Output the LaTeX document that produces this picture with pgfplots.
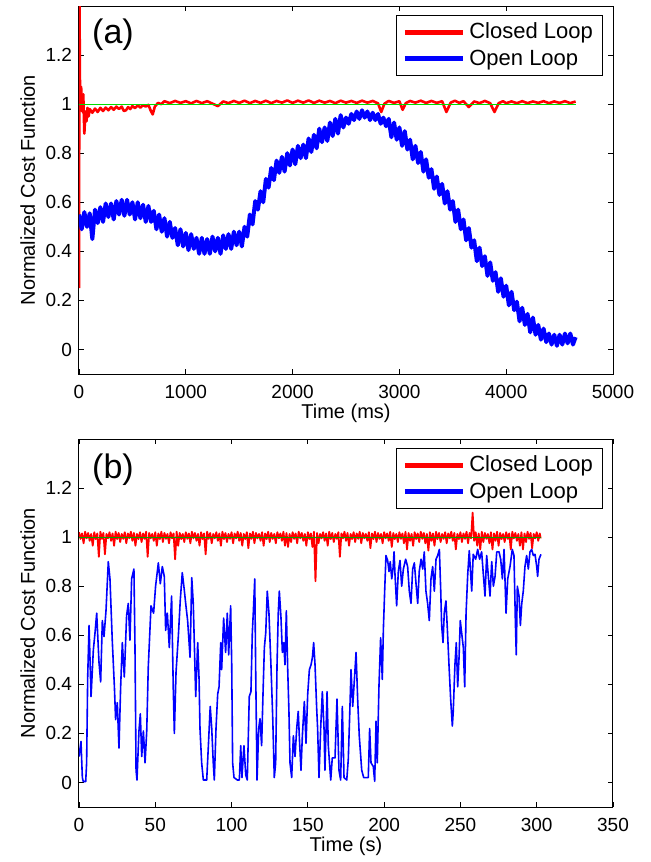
\documentclass[border=0pt]{standalone}
\usepackage{fontspec}
\setmainfont{Liberation Sans}
\usepackage{pgfplots}
\pgfplotsset{compat=1.18}
\definecolor{mgreen}{RGB}{0,220,0}
\pgfplotsset{
 myaxis/.style={
  scale only axis, width=267pt, height=184pt,
  ymin=-0.1, ymax=1.4,
  ytick={0,0.2,0.4,0.6,0.8,1,1.2},
  yticklabels={0,0.2,0.4,0.6,0.8,1,1.2},
  tick align=inside, major tick length=2.5pt,
  tick style={black, line width=0.4pt},
  axis line style={line width=0.5pt},
  ticklabel style={font=\fontsize{9.5}{11}\selectfont},
  /pgf/number format/assume math mode=true,
  scaled ticks=false,
  label style={font=\fontsize{11}{13}\selectfont},
  ylabel={Normalized Cost Function},
  every axis y label/.style={at={(axis description cs:-0.0824,0.5)}, rotate=90, anchor=base},
  every axis x label/.style={at={(axis description cs:0.5,-0.12)}, anchor=base},
  xticklabel style={yshift=-2pt},
  legend style={at={(rel axis cs:0.982,0.975)}, anchor=north east, draw=black, line width=0.5pt, font=\fontsize{11}{13}\selectfont, inner xsep=3pt, inner ysep=1.5pt},
  legend cell align=left,
  legend image code/.code={\draw[line width=2.5pt] (0pt,0pt) -- (29pt,0pt);},
 }
}
\begin{document}
\begin{tikzpicture}
\useasboundingbox (-39.5pt,3pt) rectangle (285.5pt,-428pt);
\begin{axis}[myaxis, at={(0pt,0pt)}, anchor=north west,
  xmin=0, xmax=5000, xtick={0,1000,2000,3000,4000,5000},
  xticklabels={0,1000,2000,3000,4000,5000}, xlabel={Time (ms)}]
\addplot[red, line width=1.3pt, line join=round] coordinates {
(0,0.25)(4,1.45)(10,1.02)(20,1.07)(30,0.97)(40,1.04)(50,0.88)(60,0.97)(70,0.93)(80,0.985)(90,0.95)(100,0.98)
(125,0.965)(150,0.982)(175,0.968)(200,0.985)(225,0.972)(250,0.986)(275,0.975)(300,0.988)(325,0.977)(350,0.99)
(375,0.98)(400,0.99)(420,0.972)(440,0.975)(460,0.988)(480,0.98)(500,0.992)(525,0.984)(550,0.995)(575,0.986)
(600,0.996)(625,0.99)(650,0.997)(670,0.975)(690,0.958)(710,0.99)(740,1.005)(770,1.0)
(800,1.012)(850,1.004)(900,1.013)(950,1.005)(1000,1.012)(1050,1.003)(1100,1.013)(1150,1.004)(1200,1.012)
(1250,1.002)(1300,0.992)(1350,1.011)(1400,1.004)(1450,1.013)(1500,1.005)(1550,1.014)(1600,1.004)(1650,1.013)
(1700,1.005)(1750,1.014)(1800,1.004)(1850,1.013)(1900,1.006)(1950,1.015)(2000,1.005)(2050,1.014)(2100,1.006)
(2150,1.015)(2200,1.005)(2250,1.014)(2300,1.006)(2350,1.013)(2400,1.004)(2450,1.014)(2500,1.006)(2550,1.013)
(2600,1.005)(2650,1.014)(2700,1.006)(2750,1.013)(2800,1.003)(2830,0.968)(2860,1.002)(2900,1.013)(2950,1.005)
(3000,1.012)(3030,0.977)(3060,1.004)(3100,1.013)(3150,1.006)(3200,1.014)(3250,1.005)(3300,1.013)(3350,1.005)
(3400,1.012)(3440,0.968)(3480,1.006)(3520,1.014)(3560,1.005)(3600,1.012)(3650,0.988)(3700,1.011)(3750,1.004)
(3800,1.013)(3850,1.004)(3890,0.968)(3930,1.004)(3970,1.012)(4000,1.004)(4050,1.011)(4100,1.004)(4150,1.012)
(4200,1.004)(4250,1.011)(4300,1.005)(4350,1.012)(4400,1.004)(4450,1.011)(4500,1.005)(4550,1.012)(4600,1.004)
(4650,1.011)};
\addlegendentry{Closed Loop}
\addplot[blue, line width=2pt, line join=round] coordinates {
(0,0.55)(25,0.49)(50,0.56)(75,0.50)(100,0.555)(125,0.45)(150,0.57)(175,0.515)(200,0.58)(225,0.52)(250,0.595)
(275,0.54)(300,0.595)(325,0.53)(350,0.605)(375,0.55)(400,0.61)(425,0.545)(450,0.61)(475,0.55)(500,0.60)
(525,0.53)(550,0.60)(575,0.535)(600,0.59)(625,0.52)(650,0.585)(675,0.52)(700,0.565)(725,0.49)(750,0.55)
(775,0.48)(800,0.535)(825,0.46)(850,0.52)(875,0.455)(900,0.495)(925,0.425)(950,0.49)(975,0.42)(1000,0.475)
(1025,0.405)(1050,0.47)(1075,0.41)(1100,0.455)(1125,0.39)(1150,0.455)(1175,0.39)(1200,0.45)(1225,0.39)
(1250,0.46)(1275,0.40)(1300,0.455)(1325,0.39)(1350,0.465)(1375,0.41)(1400,0.47)(1425,0.41)(1450,0.48)
(1475,0.425)(1500,0.48)(1525,0.42)(1550,0.50)(1575,0.46)(1600,0.55)(1625,0.51)(1650,0.605)(1675,0.57)
(1700,0.645)(1725,0.60)(1750,0.695)(1775,0.66)(1800,0.74)(1825,0.69)(1850,0.77)(1875,0.72)(1900,0.785)
(1925,0.725)(1950,0.80)(1975,0.75)(2000,0.815)(2025,0.755)(2050,0.83)(2075,0.78)(2100,0.835)(2125,0.78)
(2150,0.86)(2175,0.805)(2200,0.875)(2225,0.82)(2250,0.90)(2275,0.845)(2300,0.905)(2325,0.85)(2350,0.925)
(2375,0.87)(2400,0.94)(2425,0.88)(2450,0.955)(2475,0.905)(2500,0.945)(2525,0.92)(2550,0.96)(2575,0.935)
(2600,0.97)(2625,0.94)(2650,0.975)(2675,0.945)(2700,0.97)(2725,0.935)(2750,0.965)(2775,0.935)(2800,0.96)
(2825,0.92)(2850,0.945)(2875,0.91)(2900,0.94)(2925,0.865)(2950,0.925)(2975,0.855)(3000,0.905)(3025,0.83)
(3050,0.89)(3075,0.815)(3100,0.855)(3125,0.775)(3150,0.83)(3175,0.76)(3200,0.805)(3225,0.725)(3250,0.775)
(3275,0.70)(3300,0.735)(3325,0.655)(3350,0.705)(3375,0.63)(3400,0.675)(3425,0.595)(3450,0.645)(3475,0.57)
(3500,0.605)(3525,0.52)(3550,0.57)(3575,0.49)(3600,0.53)(3625,0.445)(3650,0.495)(3675,0.415)(3700,0.445)
(3725,0.36)(3750,0.415)(3775,0.34)(3800,0.38)(3825,0.30)(3850,0.355)(3875,0.28)(3900,0.315)(3925,0.235)
(3950,0.29)(3975,0.215)(4000,0.26)(4025,0.18)(4050,0.235)(4075,0.16)(4100,0.195)(4125,0.115)(4150,0.17)
(4175,0.10)(4200,0.145)(4225,0.07)(4250,0.13)(4275,0.06)(4300,0.10)(4325,0.04)(4350,0.085)(4375,0.03)
(4400,0.065)(4425,0.02)(4450,0.06)(4475,0.015)(4500,0.06)(4525,0.02)(4550,0.065)(4575,0.025)(4600,0.065)
(4625,0.02)(4650,0.05)};
\addlegendentry{Open Loop}
\addplot[mgreen, line width=0.6pt, forget plot] coordinates {(0,1)(4650,1)};
\node[anchor=north west, inner sep=0pt, font=\fontsize{17}{20}\selectfont] at (rel axis cs:0.024,0.967) {(a)};
\end{axis}
\begin{axis}[myaxis, at={(0pt,-216.5pt)}, anchor=north west,
  xmin=0, xmax=350, xtick={0,50,100,150,200,250,300,350},
  xticklabels={0,50,100,150,200,250,300,350}, xlabel={Time (s)}]
\addplot[red, line width=0.9pt, line join=round] coordinates {
(0,1.02)(1,0.993)(2,1.015)(3,0.975)(4,1.022)(5,0.995)(6,1.017)(7,0.985)(8,1.013)(9,0.965)
(10,1.02)(11,0.992)(12,1.015)(13,0.92)(14,1.022)(15,0.993)(16,1.017)(17,0.93)(18,1.013)(19,0.995)
(20,1.02)(21,0.985)(22,1.015)(23,0.965)(24,1.022)(25,0.992)(26,1.017)(27,0.98)(28,1.013)(29,0.993)
(30,1.02)(31,0.975)(32,1.015)(33,0.995)(34,1.022)(35,0.985)(36,1.017)(37,0.965)(38,1.013)(39,0.992)
(40,1.02)(41,0.98)(42,1.015)(43,0.993)(44,1.022)(45,0.92)(46,1.017)(47,0.995)(48,1.013)(49,0.985)
(50,1.02)(51,0.965)(52,1.015)(53,0.992)(54,1.022)(55,0.98)(56,1.017)(57,0.993)(58,1.013)(59,0.975)
(60,1.02)(61,0.995)(62,1.015)(63,0.91)(64,1.022)(65,0.965)(66,1.017)(67,0.992)(68,1.013)(69,0.98)
(70,1.02)(71,0.993)(72,1.015)(73,0.975)(74,1.022)(75,0.995)(76,1.017)(77,0.985)(78,1.013)(79,0.965)
(80,1.02)(81,0.992)(82,1.015)(83,0.93)(84,1.022)(85,0.993)(86,1.017)(87,0.975)(88,1.013)(89,0.995)
(90,1.02)(91,0.985)(92,1.015)(93,0.965)(94,1.022)(95,0.992)(96,1.017)(97,0.98)(98,1.013)(99,0.993)
(100,1.02)(101,0.975)(102,1.015)(103,0.995)(104,1.022)(105,0.985)(106,1.017)(107,0.965)(108,1.013)(109,0.992)
(110,1.02)(111,0.955)(112,1.015)(113,0.993)(114,1.022)(115,0.975)(116,1.017)(117,0.995)(118,1.013)(119,0.985)
(120,1.02)(121,0.965)(122,1.015)(123,0.992)(124,1.022)(125,0.98)(126,1.017)(127,0.993)(128,1.013)(129,0.975)
(130,1.02)(131,0.995)(132,1.015)(133,0.985)(134,1.022)(135,0.965)(136,1.017)(137,0.96)(138,1.013)(139,0.98)
(140,1.02)(141,0.993)(142,1.015)(143,0.975)(144,1.022)(145,0.995)(146,1.017)(147,0.985)(148,1.013)(149,0.965)
(150,1.02)(151,0.992)(152,1.015)(153,0.96)(154,1.022)(155,0.82)(156,1.017)(157,0.975)(158,1.013)(159,0.995)
(160,1.02)(161,0.985)(162,1.015)(163,0.965)(164,1.022)(165,0.992)(166,1.017)(167,0.98)(168,1.013)(169,0.993)
(170,1.02)(171,0.92)(172,1.015)(173,0.995)(174,1.022)(175,0.985)(176,1.017)(177,0.965)(178,1.013)(179,0.992)
(180,1.02)(181,0.98)(182,1.015)(183,0.993)(184,1.022)(185,0.975)(186,1.017)(187,0.995)(188,1.013)(189,0.985)
(190,1.02)(191,0.955)(192,1.015)(193,0.992)(194,1.022)(195,0.98)(196,1.017)(197,0.993)(198,1.013)(199,0.975)
(200,1.02)(201,0.995)(202,1.015)(203,0.985)(204,1.022)(205,0.96)(206,1.017)(207,0.992)(208,1.013)(209,0.98)
(210,1.02)(211,0.993)(212,1.015)(213,0.975)(214,1.022)(215,0.95)(216,1.017)(217,0.985)(218,1.013)(219,0.965)
(220,1.02)(221,0.992)(222,1.015)(223,0.98)(224,1.022)(225,0.993)(226,1.017)(227,0.975)(228,1.013)(229,0.945)
(230,1.02)(231,0.985)(232,1.015)(233,0.965)(234,1.022)(235,0.992)(236,1.017)(237,0.98)(238,1.013)(239,0.993)
(240,1.02)(241,0.975)(242,1.015)(243,0.995)(244,1.022)(245,0.985)(246,1.017)(247,0.95)(248,1.013)(249,0.992)
(250,1.02)(251,0.98)(252,1.015)(253,0.993)(254,1.022)(255,0.975)(256,1.017)(257,0.995)(258,1.10)(259,0.985)
(260,1.02)(261,0.965)(262,1.015)(263,0.95)(264,1.022)(265,0.98)(266,1.017)(267,0.993)(268,1.013)(269,0.975)
(270,1.02)(271,0.95)(272,1.015)(273,0.985)(274,1.022)(275,0.965)(276,1.017)(277,0.992)(278,1.013)(279,0.98)
(280,1.02)(281,0.993)(282,1.015)(283,0.95)(284,1.022)(285,0.995)(286,1.017)(287,0.985)(288,1.013)(289,0.965)
(290,1.02)(291,0.95)(292,1.015)(293,0.98)(294,1.022)(295,0.993)(296,1.017)(297,0.955)(298,1.013)(299,0.995)
(300,1.02)(301,0.985)(302,1.015)(302.6,0.995)};
\addlegendentry{Closed Loop}
\addplot[blue, line width=0.8pt, line join=round] coordinates {
(0,0.106)(1.3,0.167)(2.2,0.02)(2.8,0.004)(4.4,0.004)(5.0,0.08)(5.7,0.43)(6.6,0.64)(7.9,0.35)(9.4,0.54)
(10.5,0.61)(11.6,0.69)(13.1,0.49)(14.2,0.41)(15.3,0.66)(16.4,0.595)(17.7,0.70)(19.2,0.90)(20.3,0.83)
(21.8,0.58)(23.2,0.39)(24.0,0.256)(25.1,0.325)(26.2,0.14)(27.3,0.39)(28.4,0.57)(29.7,0.43)(31.2,0.68)
(32.3,0.73)(33.4,0.58)(34.5,0.83)(36.0,0.87)(36.7,0.55)(37.4,0.05)(38.0,0.01)(39.3,0.21)(40.2,0.28)
(41.1,0.106)(42.2,0.21)(43.3,0.08)(44.4,0.21)(45.4,0.47)(47.2,0.72)(48.9,0.69)(50.2,0.80)(52.0,0.895)
(53.3,0.81)(54.6,0.88)(55.9,0.84)(56.8,0.62)(57.9,0.69)(59.2,0.55)(60.7,0.76)(61.8,0.38)(62.5,0.20)
(63.6,0.45)(65.1,0.595)(66.4,0.745)(67.7,0.855)(69.0,0.785)(70.1,0.72)(71.2,0.66)(72.8,0.51)(73.9,0.835)
(74.9,0.73)(76.5,0.35)(77.8,0.57)(78.7,0.42)(79.3,0.22)(80.4,0.08)(81.5,0.01)(83.7,0.01)(84.8,0.15)
(86.0,0.31)(87.0,0.22)(88.0,0.08)(88.7,0.01)(89.8,0.22)(90.9,0.36)(91.8,0.39)(92.9,0.57)(93.5,0.46)
(94.8,0.67)(96.1,0.53)(97.2,0.69)(98.1,0.52)(99.4,0.72)(100.1,0.48)(100.7,0.08)(101.6,0.02)(103.8,0.01)
(105.1,0.01)(106.0,0.15)(106.8,0.02)(108.1,0.15)(109.3,0.03)(110.3,0.01)(111.6,0.35)(112.7,0.37)
(113.6,0.61)(114.3,0.70)(115.2,0.83)(115.8,0.46)(116.7,0.01)(117.8,0.22)(118.6,0.26)(119.7,0.15)
(120.6,0.36)(121.5,0.55)(122.4,0.61)(123.4,0.78)(124.5,0.69)(125.8,0.48)(127.0,0.26)(128.0,0.02)
(128.9,0.08)(129.8,0.48)(130.6,0.69)(131.3,0.78)(132.4,0.67)(133.3,0.53)(134.2,0.57)(135.0,0.48)
(135.9,0.70)(136.8,0.46)(137.6,0.29)(138.3,0.08)(139.4,0.02)(140.5,0.19)(141.6,0.106)(142.7,0.22)
(143.7,0.29)(144.6,0.16)(145.5,0.05)(146.4,0.19)(147.7,0.33)(148.8,0.16)(149.9,0.36)(151.0,0.46)
(152.1,0.48)(153.0,0.51)(153.8,0.57)(154.7,0.48)(155.8,0.30)(156.4,0.22)(157.3,0.02)(158.4,0.22)
(159.5,0.37)(160.6,0.22)(161.2,0.05)(162.6,0.37)(163.4,0.15)(165.0,0.01)(166.0,0.10)(167.8,0.10)
(169.1,0.34)(170.4,0.05)(171.5,0.01)(172.6,0.31)(173.7,0.02)(175.5,0.01)(176.5,0.095)(177.4,0.27)
(178.3,0.46)(179.4,0.31)(180.5,0.42)(181.6,0.53)(182.7,0.33)(183.7,0.19)(185.3,0.05)(186.6,0.02)
(188.5,0.02)(189.6,0.02)(190.5,0.22)(191.4,0.08)(192.9,0.065)(193.8,0.005)(194.7,0.25)(195.5,0.08)
(196.6,0.39)(197.7,0.59)(198.8,0.42)(199.5,0.625)(200.4,0.79)(201.2,0.925)(202.3,0.905)(203.2,0.86)
(204.0,0.90)(205.0,0.83)(205.8,0.87)(206.5,0.94)(207.1,0.85)(208.2,0.72)(209.3,0.86)(210.4,0.905)
(211.5,0.80)(212.6,0.87)(214.1,0.91)(215.4,0.88)(216.5,0.78)(217.6,0.73)(218.7,0.87)(219.8,0.895)
(220.9,0.81)(222.0,0.73)(223.0,0.86)(224.2,0.91)(225.3,0.87)(226.3,0.94)(227.4,0.78)(228.5,0.73)
(229.6,0.66)(230.7,0.83)(231.8,0.88)(232.9,0.78)(234.0,0.91)(235.1,0.925)(236.2,0.95)(237.1,0.78)
(237.7,0.64)(238.6,0.57)(239.4,0.69)(240.5,0.74)(241.4,0.63)(242.5,0.48)(243.6,0.34)(244.7,0.23)
(245.3,0.29)(246.4,0.48)(247.3,0.57)(248.2,0.39)(249.1,0.51)(249.9,0.66)(250.8,0.61)(251.9,0.55)
(252.8,0.39)(253.7,0.69)(254.8,0.85)(255.8,0.945)(257.4,0.78)(258.4,0.93)(260.0,0.91)(261.3,0.95)
(262.6,0.91)(263.9,0.94)(265.0,0.85)(266.1,0.76)(267.2,0.925)(268.3,0.84)(269.4,0.76)(270.5,0.90)
(271.6,0.80)(272.7,0.84)(273.8,0.94)(275.3,0.94)(276.4,0.91)(277.5,0.83)(278.6,0.95)(279.9,0.69)
(281.0,0.83)(282.5,0.88)(284.0,0.95)(285.1,0.925)(286.0,0.66)(286.6,0.52)(287.3,0.80)(288.4,0.76)
(289.3,0.64)(290.2,0.73)(291.2,0.78)(292.3,0.88)(293.4,0.925)(294.5,0.87)(295.6,0.94)(296.7,0.95)
(297.8,0.925)(298.9,0.93)(300.0,0.88)(300.6,0.84)(301.5,0.91)(302.8,0.93)};
\addlegendentry{Open Loop}
\addplot[mgreen!75!black, line width=0.5pt, forget plot] coordinates {(0,1)(302.6,1)};
\node[anchor=north west, inner sep=0pt, font=\fontsize{17}{20}\selectfont] at (rel axis cs:0.024,0.962) {(b)};
\end{axis}
\end{tikzpicture}
\end{document}
